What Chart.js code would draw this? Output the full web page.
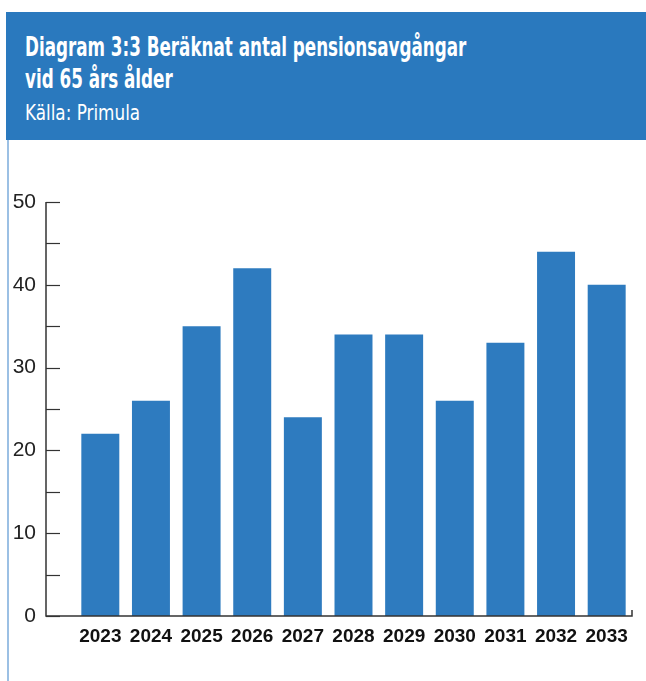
<!DOCTYPE html>
<html>
<head>
<meta charset="utf-8">
<script src="https://cdn.jsdelivr.net/npm/chart.js@4.4.1/dist/chart.umd.min.js"></script>
<style>
  body { margin: 0; background: #fff; width: 646px; height: 681px; position: relative; overflow: hidden; }
  #header {
    position: absolute; left: 6px; top: 12px; width: 640px; height: 128px;
    background: #2a79be; color: #fff; box-sizing: border-box; padding: 19px 0 0 19px;
  }
  #title {
    font-family: "DejaVu Sans Condensed", "DejaVu Sans", sans-serif;
    font-weight: bold; font-size: 27px; line-height: 32px;
    transform: scaleX(0.69); transform-origin: left top; white-space: nowrap;
  }
  #source {
    font-family: "DejaVu Sans Condensed", "DejaVu Sans", sans-serif;
    font-size: 22px; line-height: 30px; margin-top: 3px;
    transform: scaleX(0.85); transform-origin: left top; white-space: nowrap;
  }
  #leftline { position: absolute; left: 7px; top: 140px; width: 2px; height: 541px; background: #9cc0e4; }
  #wrap { position: absolute; left: 0; top: 140px; width: 646px; height: 541px; }
</style>
</head>
<body>
<div id="header">
  <div id="title">Diagram 3:3 Beräknat antal pensionsavgångar<br>vid 65 års ålder</div>
  <div id="source">Källa: Primula</div>
</div>
<div id="leftline"></div>
<div id="wrap"><canvas id="chart"></canvas></div>
<script>
// Data
const years = ['2023', '2024', '2025', '2026', '2027', '2028', '2029', '2030', '2031', '2032', '2033'];
const retirements = [22, 26, 35, 42, 24, 34, 34, 26, 33, 44, 40];
const yMin = 0;
const yMax = 50;

// Draws the axis lines the way the original does (ticks inside, x axis running from y axis)
const axisPlugin = {
  id: 'axisLines',
  afterDraw(chart) {
    const c = chart.ctx;
    const y = chart.scales.y;
    const area = chart.chartArea;
    const axisX = area.left - 29;
    c.save();
    c.strokeStyle = '#333';
    c.lineWidth = 1.5;
    c.beginPath();
    c.moveTo(axisX, y.getPixelForValue(yMax));
    c.lineTo(axisX, y.getPixelForValue(yMin));
    c.lineTo(area.right, y.getPixelForValue(yMin));
    c.lineTo(area.right, y.getPixelForValue(yMin) - 6);
    c.stroke();
    for (let v = yMin; v <= yMax; v += 5) {
      const py = Math.round(y.getPixelForValue(v)) + 0.5;
      c.beginPath();
      c.lineWidth = 1.2;
      c.moveTo(axisX, py);
      c.lineTo(axisX + 14, py);
      c.stroke();
    }
    c.restore();
  }
};

new Chart(document.getElementById('chart'), {
  type: 'bar',
  data: {
    labels: years,
    datasets: [{
      data: retirements,
      backgroundColor: '#2e7bbf',
      barPercentage: 0.75,
      categoryPercentage: 1
    }]
  },
  options: {
    responsive: true,
    maintainAspectRatio: false,
    animation: false,
    layout: { padding: { top: 62, right: 14, left: 0, bottom: 0 } },
    plugins: { legend: { display: false }, tooltip: { enabled: false } },
    scales: {
      x: {
        grid: { display: false, drawTicks: false },
        border: { display: false },
        ticks: {
          color: '#111',
          padding: 9,
          maxRotation: 0,
          autoSkip: false,
          font: { family: 'Liberation Sans, Arial, sans-serif', size: 19, weight: 'bold' }
        },
        afterFit(s) { s.height = 65; }
      },
      y: {
        min: yMin,
        max: yMax,
        grid: { display: false, drawTicks: false },
        border: { display: false },
        ticks: {
          stepSize: 10,
          color: '#222',
          padding: 39,
          font: { family: 'Liberation Sans, Arial, sans-serif', size: 21 }
        },
        afterFit(s) { s.width = 75; }
      }
    }
  },
  plugins: [axisPlugin]
});
</script>
</body>
</html>
